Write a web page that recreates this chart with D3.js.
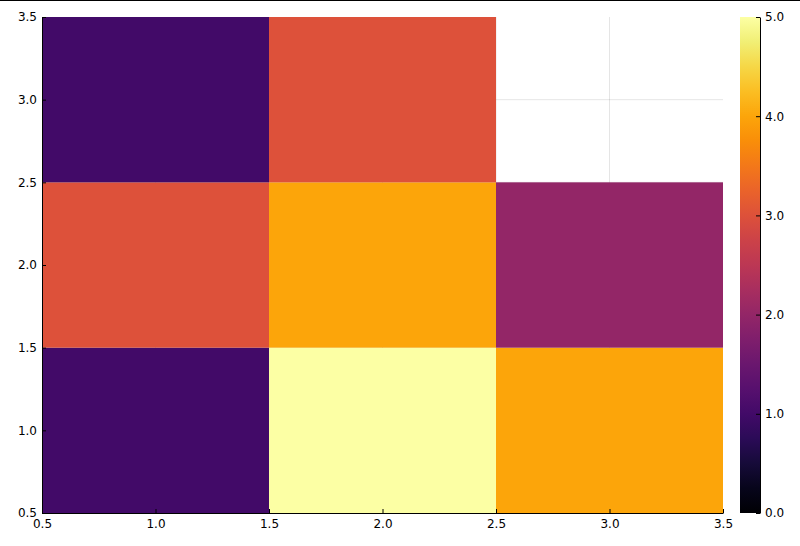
<!DOCTYPE html>
<html><head><meta charset="utf-8">
<script src="https://cdn.jsdelivr.net/npm/d3@7"></script>
<style>body{margin:0;background:#fff}text{font-family:"DejaVu Sans",sans-serif;font-size:12px;fill:#000}</style>
</head><body><svg id="c" width="800" height="546"></svg>
<script>
const xCats=[1,2,3];
const yCats=[1,2,3];
const values=[[1,5,4],[3,4,2],[1,3,null]]; // rows by y
const xTicks=[0.5,1.0,1.5,2.0,2.5,3.0,3.5];
const yTicks=[0.5,1.0,1.5,2.0,2.5,3.0,3.5];
const cbTicks=[0,1,2,3,4,5];
const svg=d3.select("#c");
const L=42,R=723,T=17,B=513;
const x=d3.scaleLinear().domain([0.5,3.5]).range([L,R]);
const y=d3.scaleLinear().domain([0.5,3.5]).range([B,T]);
const col=d3.scaleSequential(d3.interpolateInferno).domain([0,5]);
svg.append("line").attr("x1",0).attr("x2",800).attr("y1",0.5).attr("y2",0.5).attr("stroke","#000");
const g=svg.append("g");
xTicks.slice(1,-1).forEach(t=>g.append("line").attr("x1",x(t)).attr("x2",x(t)).attr("y1",T).attr("y2",B).attr("stroke","#000").attr("stroke-opacity",0.1));
yTicks.slice(1,-1).forEach(t=>g.append("line").attr("y1",y(t)).attr("y2",y(t)).attr("x1",L).attr("x2",R).attr("stroke","#000").attr("stroke-opacity",0.1));
values.forEach((row,i)=>row.forEach((v,j)=>{if(v==null)return;
 g.append("rect").attr("x",x(xCats[j]-0.5)).attr("y",y(yCats[i]+0.5)).attr("width",x(1.5)-x(0.5)).attr("height",y(0.5)-y(1.5)).attr("fill",col(v));}));
const ax=svg.append("g").attr("transform",`translate(0,${B})`).call(d3.axisBottom(x).tickValues(xTicks).tickFormat(d3.format(".1f")).tickSizeInner(-4).tickSizeOuter(0).tickPadding(6));
const ay=svg.append("g").attr("transform",`translate(${L},0)`).call(d3.axisLeft(y).tickValues(yTicks).tickFormat(d3.format(".1f")).tickSizeInner(-4).tickSizeOuter(0).tickPadding(5));
[ax,ay].forEach(a=>{a.selectAll("text").style("font-size","12px").style("font-family","DejaVu Sans");a.select(".domain").attr("stroke","#000")});
// colorbar
const cx=740,cw=20;
const cy=d3.scaleLinear().domain([0,5]).range([B,T]);
const defs=svg.append("defs");const lg=defs.append("linearGradient").attr("id","gr").attr("x1",0).attr("y1",1).attr("x2",0).attr("y2",0);
d3.range(0,1.001,0.05).forEach(t=>lg.append("stop").attr("offset",t).attr("stop-color",d3.interpolateInferno(t)));
svg.append("rect").attr("x",cx).attr("y",T).attr("width",cw).attr("height",B-T).attr("fill","url(#gr)");
const ac=svg.append("g").attr("transform",`translate(${cx+cw},0)`).call(d3.axisRight(cy).tickValues(cbTicks).tickSizeInner(-4).tickSizeOuter(0).tickPadding(5));
ac.select(".domain").attr("stroke","#000");ac.selectAll("text").style("font-size","12px").style("font-family","DejaVu Sans");
</script></body></html>
